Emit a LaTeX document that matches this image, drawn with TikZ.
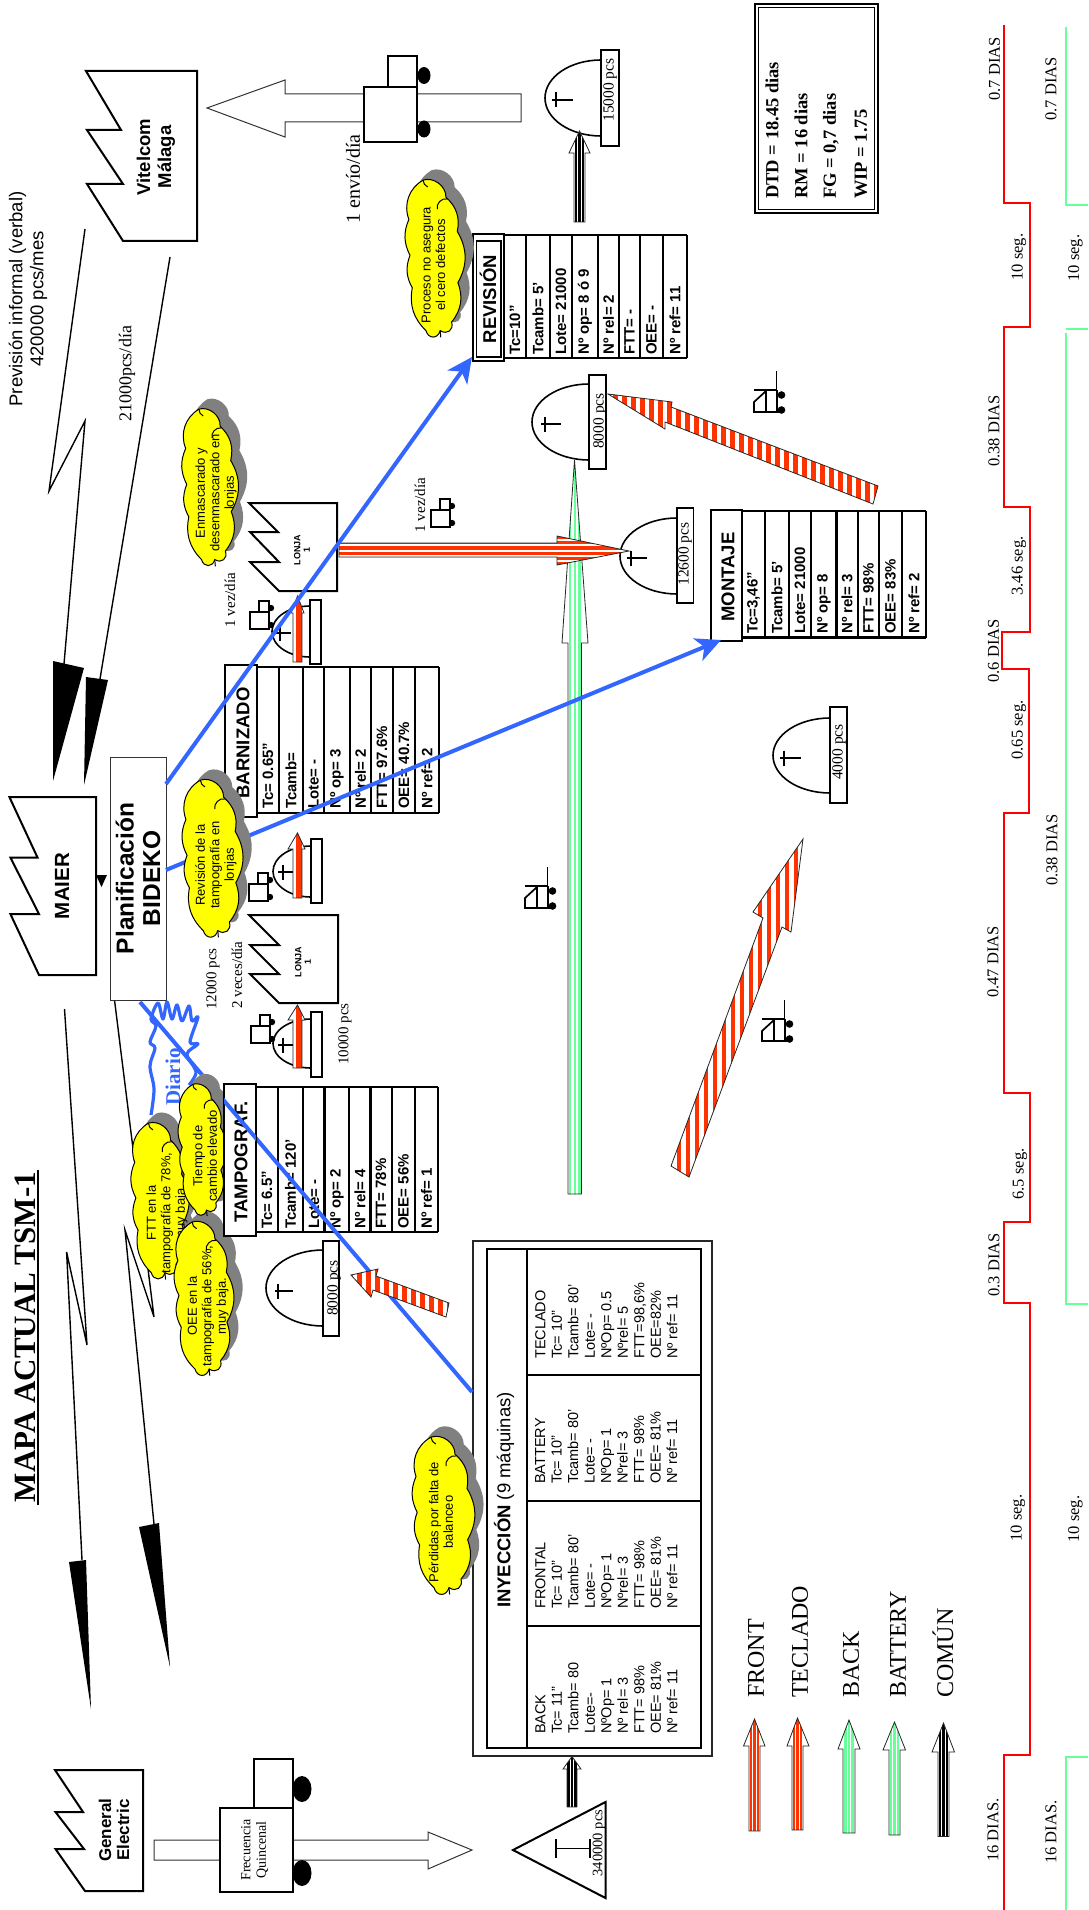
\documentclass[tikz,border=0pt]{standalone}
\usepackage{fontspec}
\setmainfont{Liberation Sans}
\newfontfamily\tnr{Liberation Serif}
\usetikzlibrary{arrows.meta}
\definecolor{vsred}{HTML}{FF3300}
\definecolor{vsgreen}{HTML}{66FF99}
\definecolor{vsblue}{HTML}{3366FF}
\definecolor{lred}{HTML}{FF0000}
\definecolor{cloudy}{HTML}{FFFF00}
\definecolor{cloudg}{HTML}{808080}
\newcommand\fz[2]{\fontsize{#1}{#2}\selectfont}
\tikzset{
 rot/.style={rotate=90,inner sep=0pt,align=center},
 sans/.style={rot,font=\fz{#1}{#1}},
 serif/.style={rot,font=\tnr\fz{#1}{#1}},
 fact/.style={line width=2pt,fill=white,line join=miter},
 factb/.style={rot,font=\bfseries\fz{#1}{#1}},
 hollow/.style={line width=1pt,fill=white,draw=black!80},
 tbl/.style={line width=2.4pt},
 stockl/.style={line width=1.6pt},
 cellb/.style={rot,anchor=west,font=\bfseries\fz{15}{15}},
 hdrb/.style={rot,font=\bfseries\fz{#1}{#1}},
 cloudt/.style={rot,font=\fz{13}{14.5}},
 inyt/.style={rot,anchor=north west,align=left,font=\fz{14.5}{16.5}},
 tline/.style={serif=16.5},
 bluear/.style={draw=vsblue,line width=4pt,-{Stealth[length=25pt,width=24pt,inset=7pt]}},
 bluel/.style={draw=vsblue,line width=4pt},
 bolt/.style={line width=1.4pt,line join=miter},
 striped/.style={line width=.8pt,draw=black!85,line join=miter},
 legt/.style={rot,anchor=west,font=\tnr\fz{24}{24}},
}
% vertical stripes clipped to a polygon: path, first x, step, last x, bar width, colour, ytop, ybot
\newcommand\stripev[8]{%
 \begin{scope}\clip #1 -- cycle;
  \fill[white] (0,#7) rectangle (1088,#8);
  \pgfmathsetmacro\nx{#2+#3}
  \foreach \xx in {#2,\nx,...,#4}{\fill[#6] (\xx-#5/2,#7) rectangle (\xx+#5/2,#8);}
 \end{scope}
 \draw[striped] #1 -- cycle;}
% horizontal stripes clipped to a polygon: path, first y, step, last y, bar height, colour, xleft, xright
\newcommand\stripeh[8]{%
 \begin{scope}\clip #1 -- cycle;
  \fill[white] (#7,0) rectangle (#8,1910);
  \pgfmathsetmacro\ny{#2+#3}
  \foreach \yy in {#2,\ny,...,#4}{\fill[#6] (#7,\yy-#5/2) rectangle (#8,\yy+#5/2);}
 \end{scope}
 \draw[striped] #1 -- cycle;}
% upward arrow: xl xr ybot ybase ytip hl hr colour
\newcommand\legarrow[8]{%
 \pgfmathsetmacro\xm{(#1+#2)/2}\pgfmathsetmacro\xa{\xm-3.4}\pgfmathsetmacro\xb{\xm+3.4}\pgfmathsetmacro\xc{\xm+6}
 \stripev{(#1,#3) -- (#1,#4) -- (#6,#4) -- (\xm,#5) -- (#7,#4) -- (#2,#4) -- (#2,#3)}{\xa}{3.4}{\xc}{2.3}{#8}{#5}{#3}}
% stock symbol: name, box l, box r, box top, box bottom, reach, ell top, ell bottom
\newcommand\stocksym[8]{%
 \pgfmathsetmacro\rr{(#8-#7)/2}
 \draw[stockl] (#2,#7) arc[start angle=-90,end angle=-270,x radius=#6,y radius=\rr];
 \draw[stockl,fill=white] (#2,#4) rectangle (#3,#5);}
\newcommand\crossm[4]{\draw[line width=1.4pt] (#1,#4) -- (#2,#4) (#3,#4-7.5) -- (#3,#4+7.5);}
\newcommand\smalltruck[2]{%
 \draw[line width=1.7pt] (#1,#2) rectangle (#1+19,#2+17) (#1+9,#2-11) rectangle (#1+19,#2);
 \fill (#1+21,#2-4) circle[radius=3.2] (#1+21,#2+13) circle[radius=3.2];}
\newcommand\forklift[2]{%
 \begin{scope}[shift={(#1,#2)}]
 \draw[line width=1.5pt] (22.5,0) -- (22.5,19);
 \draw[line width=2.6pt] (0,19) -- (23,19);
 \draw[line width=1.7pt] (27,41) -- (0,41) -- (0,31) -- (12,20) -- (12,41) (23,19) -- (23,41);
 \fill (27.5,24) circle[radius=3.8] (27.5,39) circle[radius=3.8];
 \end{scope}}
\newcommand\cloudpath{(.30,.03) to[bend left=55] (.70,.13) to[bend left=30] (.90,.33) to[bend left=30] (.91,.63) to[bend left=30] (.80,.86) to[bend left=70,looseness=1.5] (.60,.91) to[bend left=75,looseness=1.6] (.35,.91) to[bend left=28] (.11,.66) to[bend left=25] (.07,.47) to[bend left=25] (.05,.26) to[bend left=40] (.30,.03) -- cycle}
\newcommand\cloudsym[4]{%
 \pgfmathsetmacro\cw{#3-#1}\pgfmathsetmacro\ch{#4-#2}
 \begin{scope}[shift={(#1+8.7,#2-10)},x=\cw pt,y=-\ch pt]
  \fill[cloudg] \cloudpath;
 \end{scope}
 \begin{scope}[shift={(#1,#2)},x=\cw pt,y=-\ch pt]
  \draw[fill=cloudy,line width=1pt] \cloudpath;
  \draw[line width=1pt] (.55,.20) to[bend left=60] (.72,.14) (.30,.03) to[bend right=30] (.38,.07) (.60,.91) to[bend left=10] (.61,.95);
 \end{scope}}
\begin{document}
\begin{tikzpicture}[x=1pt,y=-1pt]
\useasboundingbox (0,0) rectangle (1088,1910);
\fill[white] (0,0) rectangle (1088,1910);

% ---- title and free texts
\node[rot,font=\tnr\bfseries\fz{31}{31}] (title) at (25,1337) {MAPA ACTUAL TSM-1};
\coordinate (tula) at (37.5,1170); \coordinate (tulb) at (37.5,1505);
\draw[line width=2pt] (tula) -- (tulb);
\node[sans=18.5,font=\fz{18.5}{21}] (prev) at (28,299) {Previsión informal (verbal)\\420000 pcs/mes};
\node[serif=18] (t21000) at (127,374) {21000pcs/día};
\node[serif=20] (tenvio) at (353,179) {1 envío/día};
\node[serif=15] (t1vezb) at (230,600) {1 vez/día};
\node[serif=15] (t1veza) at (420,505) {1 vez/día};
\node[serif=15] (t12000) at (213,979) {12000 pcs};
\node[serif=15] (t2veces) at (237,975) {2 veces/día};
\node[serif=15] (t10000) at (345,1034) {10000 pcs};

% ---- factories
\draw[fact] (86,71) -- (197,71) -- (197,241) -- (123,241) -- (87,184) -- (123,184) -- (87,130) -- (121,130) -- cycle;
\node[factb=18.5,font=\bfseries\fz{18.5}{21}] (vitelcom) at (156,157) {Vitelcom\\Málaga};
\draw[fact] (9.4,797) -- (96,797) -- (96,975) -- (39,975) -- (10.4,914) -- (39,914) -- (10.4,857.5) -- (37.5,857.5) -- cycle;
\node[factb=20.5] (maier) at (62,886) {MAIER};
\fill (96,875) -- (107,875) -- (101.5,887) -- cycle;
\draw[fact] (55,1770) -- (143,1770) -- (143,1891) -- (85,1891) -- (55.5,1849) -- (84,1849) -- (55.5,1812) -- (83,1812) -- cycle;
\node[factb=17,font=\bfseries\fz{17}{18}] (ge) at (114,1830) {General\\Electric};
\draw[fact] (249,503) -- (337,503) -- (337,591) -- (279,591) -- (250,562) -- (279,562) -- (250,532) -- (278,532) -- cycle;
\node[factb=9,font=\bfseries\fz{9}{9.5}] (lonjaa) at (302,550) {LONJA\\1};
\draw[fact] (249,915) -- (338,915) -- (338,1003) -- (279,1003) -- (250,974) -- (279,974) -- (250,945) -- (279,945) -- cycle;
\node[factb=9,font=\bfseries\fz{9}{9.5}] (lonjab) at (303,962) {LONJA\\1};

% ---- information flow bolts
\coordinate (ba0) at (85,229); \coordinate (ba1) at (49,491); \coordinate (ba2) at (85,421); \coordinate (ba3) at (64,664);
\draw[bolt] (ba0) -- (ba1) -- (ba2) -- (ba3);
\fill (53,661) -- (84,668) -- (53,781) -- cycle;
\coordinate (bb0) at (170,257); \coordinate (bb1) at (100,679);
\draw[bolt] (bb0) -- (bb1);
\fill (86,677) -- (108,680) -- (84,785) -- cycle;
\coordinate (bc0) at (64.5,1009); \coordinate (bc1) at (87,1345); \coordinate (bc2) at (66.6,1252); \coordinate (bc3) at (82,1560);
\draw[bolt] (bc0) -- (bc1) -- (bc2) -- (bc3);
\fill (69,1562) -- (86,1560) -- (91,1709) -- cycle;
\coordinate (bd0) at (114,996); \coordinate (bd1) at (154,1317); \coordinate (bd2) at (125,1230); \coordinate (bd3) at (154,1524);
\draw[bolt] (bd0) -- (bd1) -- (bd2) -- (bd3);
\fill (139,1527) -- (159,1523) -- (170,1667) -- cycle;

% ---- shipping arrows and trucks
\draw[hollow] (207,108) -- (285,80) -- (285,94) -- (521,94) -- (521,122) -- (285,122) -- (285,137) -- cycle;
\draw[line width=2pt,fill=white] (364,87) rectangle (417,142) (388,56) rectangle (417,87);
\fill (424,75.5) ellipse[x radius=6.5,y radius=8.5] (424,129) ellipse[x radius=6.5,y radius=8.5];
\draw[hollow] (154,1840) -- (428,1840) -- (428,1832) -- (472,1850) -- (428,1869) -- (428,1860) -- (154,1860) -- cycle;
\draw[line width=2pt,fill=white] (220,1808) rectangle (293,1892) (254,1759) rectangle (293,1808);
\fill (302,1789) ellipse[x radius=9.5,y radius=13] (302,1873) ellipse[x radius=9.5,y radius=13];
\node[serif=14,font=\tnr\fz{14}{15.5}] (frec) at (254.5,1850) {Frecuencia\\Quincenal};

% ---- planning box
\node[rot,draw=black!80,fill=white,line width=.9pt,minimum width=243pt,minimum height=56pt,font=\bfseries\fz{24.5}{26.5}] (plan) at (138,878.5) {Planificación\\BIDEKO};

% ---- process tables
\foreach \xx in {503.5,526,550,572,598,619,640,663,687} \draw[tbl] (\xx,235) -- (\xx,358);
\draw[tbl] (503.5,235) -- (687,235) (503.5,358) -- (687,358);
\draw[line width=2.4pt,fill=white] (473,234) rectangle (504,361);
\draw[line width=1.4pt] (476.5,241) rectangle (501,357);
\node[hdrb=18.5] (revh) at (488,299) {REVISIÓN};
\node[cellb] (r1) at (515,355) {Tc=10"};
\node[cellb] (r2) at (538,355) {Tcamb= 5'};
\node[cellb] (r3) at (561,355) {Lote= 21000};
\node[cellb] (r4) at (585,355) {Nº op= 8 ó 9};
\node[cellb] (r5) at (608.5,355) {Nº rel= 2};
\node[cellb] (r6) at (629.5,355) {FTT= -};
\node[cellb] (r7) at (651.5,355) {OEE= -};
\node[cellb] (r8) at (675,355) {Nº ref= 11};

\foreach \xx in {742,765,789,811,836.5,858,879,902,926} \draw[tbl] (\xx,511) -- (\xx,637.5);
\draw[tbl] (742,511) -- (926,511) (742,637.5) -- (926,637.5);
\draw[line width=2.4pt,fill=white] (711,510) rectangle (742,641);
\node[hdrb=18.5] (monh) at (728,577) {MONTAJE};
\node[cellb] (m1) at (753.5,634) {Tc=3,46"};
\node[cellb] (m2) at (777,634) {Tcamb= 5'};
\node[cellb] (m3) at (800,634) {Lote= 21000};
\node[cellb] (m4) at (824,634) {Nº op= 8};
\node[cellb] (m5) at (847,634) {Nº rel= 3};
\node[cellb] (m6) at (868.5,634) {FTT= 98\%};
\node[cellb] (m7) at (890.5,634) {OEE= 83\%};
\node[cellb] (m8) at (914,634) {Nº ref= 2};

\foreach \xx in {257,279,303,324,350,371,393,415,439} \draw[tbl] (\xx,667) -- (\xx,813);
\draw[tbl] (257,667) -- (439,667) (257,813) -- (439,813);
\draw[line width=2.4pt,fill=white] (225,665) rectangle (257,817);
\node[hdrb=18.5] (barh) at (243,743) {BARNIZADO};
\node[cellb] (b1) at (268,809) {Tc= 0.65"};
\node[cellb] (b2) at (291,809) {Tcamb=};
\node[cellb] (b3) at (313.5,809) {Lote= -};
\node[cellb] (b4) at (337,809) {Nº op= 3};
\node[cellb] (b5) at (360.5,809) {Nº rel= 2};
\node[cellb] (b6) at (382,809) {FTT= 97.6\%};
\node[cellb] (b7) at (404,809) {OEE= 40.7\%};
\node[cellb] (b8) at (427,809) {Nº ref= 2};

\foreach \xx in {256,278,303,324.5,349,370.6,392,415,438} \draw[tbl] (\xx,1087) -- (\xx,1232);
\draw[tbl] (256,1087) -- (438,1087) (256,1232) -- (438,1232);
\node[cellb] (t1) at (267,1229) {Tc= 6.5"};
\node[cellb] (t2) at (290.5,1229) {Tcamb= 120'};
\node[cellb] (t3) at (314,1229) {Lote= -};
\node[cellb] (t4) at (337,1229) {Nº op= 2};
\node[cellb] (t5) at (360,1229) {Nº rel= 4};
\node[cellb] (t6) at (381,1229) {FTT= 78\%};
\node[cellb] (t7) at (403.5,1229) {OEE= 56\%};
\node[cellb] (t8) at (426.5,1229) {Nº ref= 1};

% ---- injection block
\draw[line width=1.1pt,draw=black!85] (473,1241) rectangle (712,1756);
\draw[line width=2.6pt] (487,1249) rectangle (701,1748);
\draw[line width=2.6pt] (527,1249) -- (527,1748) (527,1375) -- (701,1375) (527,1501) -- (701,1501) (527,1626) -- (701,1626);
\node[rot,font=\fz{18.5}{18.5}] (iny) at (504,1500) {\textbf{INYECCIÓN} (9 máquinas)};
\node[inyt] (iback) at (535,1734) {BACK\\Tc= 11"\\Tcamb= 80\\Lote=-\\NºOp= 1\\Nº rel= 3\\FTT= 98\%\\OEE= 81\%\\Nº ref= 11};
\node[inyt] (ifront) at (535,1609) {FRONTAL\\Tc= 10"\\Tcamb= 80'\\Lote= -\\NºOp= 1\\Nºrel= 3\\FTT= 98\%\\OEE= 81\%\\Nº ref= 11};
\node[inyt] (ibatt) at (535,1484) {BATTERY\\Tc= 10"\\Tcamb= 80'\\Lote= -\\NºOp= 1\\Nºrel= 3\\FTT= 98\%\\OEE= 81\%\\Nº ref= 11};
\node[inyt] (itecl) at (535,1359) {TECLADO\\Tc= 10"\\Tcamb= 80'\\Lote= -\\NºOp= 0.5\\Nºrel= 5\\FTT=98,6\%\\OEE=82\%\\Nº ref= 11};

% ---- stocks
\stocksym{s1}{601}{619}{50}{146}{56}{60}{136}
\crossm{552}{573}{556}{100}
\node[serif=15.5] (l1) at (610,90) {15000 pcs};
\stocksym{s2}{589}{606}{375}{469}{57}{384}{460}
\crossm{541}{561}{545}{424}
\node[serif=15.5] (l2) at (600,421) {8000 pcs};
\stocksym{s3}{677}{693.5}{508}{603}{57}{518}{594}
\crossm{627}{647}{631}{558}
\node[serif=15.5] (l3) at (685,554) {12600 pcs};
\stocksym{s4}{830}{847}{707}{803}{57}{718}{793}
\crossm{780}{801}{784}{758}
\node[serif=15.5] (l4) at (839,752) {4000 pcs};
\stocksym{s5}{323}{339}{1241}{1336}{57}{1250}{1326}
\crossm{275}{293}{278}{1291}
\node[serif=15.5] (l5) at (334,1288) {8000 pcs};
\stocksym{s6}{310}{321}{600}{664}{38}{606}{657}
\crossm{275}{291}{280}{633}
\stocksym{s7}{311}{322}{839}{903}{38}{846}{897}
\crossm{278}{293}{283}{872}
\stocksym{s8}{311}{322}{1012}{1077}{38}{1019}{1068}
\crossm{278}{293}{283}{1045}
\stripev{(293,662) -- (293,613) -- (291,613) -- (297.5,596) -- (304,613) -- (302,613) -- (302,662)}{299}{10}{300}{6}{vsred}{590}{670}
\stripev{(293,898) -- (293,849) -- (288,849) -- (297.5,833) -- (305,849) -- (302,849) -- (302,898)}{299}{10}{300}{6}{vsred}{825}{905}
\stripev{(293,1068) -- (293,1020) -- (288,1020) -- (297.5,1005) -- (305,1020) -- (302,1020) -- (302,1068)}{299}{10}{300}{6}{vsred}{1000}{1075}

% triangle stock
\draw[line width=2pt,fill=white] (513,1850) -- (605.5,1802) -- (605.5,1898) -- cycle;
\draw[line width=1.5pt] (556,1839) -- (556,1858) (590,1839) -- (590,1858) (556,1848.5) -- (590,1848.5);
\node[serif=14.5] (l6) at (599,1843) {340000 pcs};

% ---- small trucks and forklifts
\smalltruck{431}{510}
\smalltruck{250}{612}
\smalltruck{249}{884}
\smalltruck{251}{1026}
\forklift{754}{371}
\forklift{762}{1000}
\forklift{525}{867}

% ---- long arrows
\stripev{(568,1194) -- (568,643) -- (562,643) -- (574.5,460) -- (588,643) -- (581.5,643) -- (581.5,1194)}{570}{4.8}{581}{2.6}{vsgreen}{455}{1200}
\stripeh{(339,543) -- (557,543) -- (557,536) -- (629,551) -- (557,565) -- (557,557) -- (339,557)}{537}{5.4}{566}{3.4}{vsred}{335}{635}
\stripev{(608,394) -- (672,402) -- (671,407) -- (878,486) -- (873,504) -- (665,422) -- (665,429)}{606}{9}{880}{5}{vsred}{390}{510}
\stripev{(803,839) -- (791,932) -- (782,927) -- (689,1177) -- (671,1166) -- (763,918) -- (753,912)}{670}{9}{806}{4.5}{vsred}{835}{1180}

% ---- blue information lines
\coordinate (pa) at (166,784); \coordinate (ra) at (472,357);
\draw[bluear] (pa) -- (ra);
\coordinate (pb) at (166,870); \coordinate (ma) at (721,640);
\draw[bluear] (pb) -- (ma);
\coordinate (pc) at (140,1002); \coordinate (ia) at (472,1392);
\draw[bluel] (pc) -- (ia);
\stripev{(351,1275) -- (378,1269) -- (376,1276) -- (449,1303) -- (446,1317) -- (373,1290) -- (371,1297)}{350}{9}{450}{5}{vsred}{1265}{1320}

% ---- Diario squiggle
\draw[vsblue,line width=3.2pt,line join=round] plot[smooth,tension=.55] coordinates {(151,1115) (154,1089) (150,1066) (155,1048) (150,1042) (156,1026) (151,1019) (158,1003) (163,1019) (167,1002) (172,1019) (177,1005) (182,1021) (189,1006) (192,1021) (198,1017) (190,1042) (198,1044) (187,1054) (196,1072) (189,1085)};
\node[rot,text=vsblue,font=\tnr\bfseries\fz{21}{21}] (diario) at (173,1077) {Diario};

% ---- clouds
\cloudsym{406}{175}{463}{346}
\node[cloudt] (c1) at (433.5,265) {Proceso no asegura\\el cero defectos};
\cloudsym{183}{404}{236}{575}
\node[cloudt] (c2) at (216,493) {Enmascarado y\\desenmascarado en\\lonjas};
\cloudsym{183}{775}{241}{946}
\node[cloudt] (c3) at (216,865) {Revisión de la\\tampografía en\\lonjas};
\cloudsym{132}{1118}{187}{1288}
\node[cloudt] (c4) at (167,1213) {FTT en la\\tampografía de 78\%,\\muy baja.};
\cloudsym{175}{1217}{232}{1384}
\node[cloudt] (c6) at (208,1306) {OEE en la\\tampografía de 56\%,\\muy baja.};
\cloudsym{179}{1080}{225}{1223}
\node[cloudt] (c5) at (205,1156) {Tiempo de\\cambio elevado};
\cloudsym{413}{1432}{473}{1603}
\node[cloudt] (c7) at (441,1522) {Pérdidas por falta de\\balanceo};

% ---- TAMPOGRAF header sits above the cloud shadow, the blue line above it
\draw[line width=2.4pt,fill=white] (224,1084) rectangle (256,1236);
\node[hdrb=18.5] (tamh) at (241,1162) {TAMPOGRAF.};
\begin{scope}
 \clip (224,1084) rectangle (256,1236);
 \draw[bluel] (pc) -- (ia);
\end{scope}

% ---- legend
\legarrow{749}{760}{1831}{1746}{1719}{743.5}{765}{vsred}
\legarrow{792}{803}{1830}{1746}{1718}{787}{809}{vsred}
\legarrow{843}{855}{1833}{1749}{1720}{838}{860}{vsgreen}
\legarrow{889}{900}{1835}{1750}{1722}{883}{905.5}{vsgreen}
\legarrow{938}{949}{1836.5}{1752}{1723}{932}{954.5}{black}
\node[legt] (lf) at (756,1698) {FRONT};
\node[legt] (lt) at (800,1698) {TECLADO};
\node[legt] (lb) at (851,1698) {BACK};
\node[legt] (lba) at (898,1698) {BATTERY};
\node[legt] (lc) at (943,1698) {COMÚN};
\legarrow{567}{577}{1807}{1769}{1756.5}{563}{581}{black}
\legarrow{574}{585}{222}{153}{131}{569}{590}{black}

% ---- summary box
\draw[line width=2pt] (755,4) rectangle (878,213);
\draw[line width=1pt] (758.5,7.5) rectangle (874.5,209.5);
\node[rot,anchor=west,font=\tnr\bfseries\fz{18.5}{18.5}] (d1) at (772,199) {DTD = 18.45 dias};
\node[rot,anchor=west,font=\tnr\bfseries\fz{18.5}{18.5}] (d2) at (801,199) {RM = 16 dias};
\node[rot,anchor=west,font=\tnr\bfseries\fz{18.5}{18.5}] (d3) at (831,199) {FG = 0,7 dias};
\node[rot,anchor=west,font=\tnr\bfseries\fz{18.5}{18.5}] (d4) at (861,199) {WIP = 1.75};

% ---- timelines
\draw[lred,line width=2pt] (1004,25) -- (1004,203) -- (1030,203) -- (1030,326.5) -- (1004,326.5) -- (1004,507) -- (1030,507) -- (1030,632) -- (1002,632) -- (1002,669) -- (1029,669) -- (1029,813) -- (1004,813) -- (1004,1093) -- (1030,1093) -- (1030,1221.5) -- (1004,1221.5) -- (1004,1303) -- (1030,1303) -- (1030,1755) -- (1004,1755) -- (1004,1910);
\draw[vsgreen,line width=2pt] (1066,27) -- (1066,205) -- (1088,205);
\draw[vsgreen,line width=2pt] (1088,329) -- (1066,329);
\draw[vsgreen,line width=2pt] (1066,333) -- (1066,1303.5) -- (1088,1303.5);
\draw[vsgreen,line width=2pt] (1088,1756.5) -- (1066,1756.5) -- (1066,1910);
\node[tline] (a1) at (994.5,69) {0.7 DIAS};
\node[tline] (a2) at (1019,257) {10 seg.};
\node[tline] (a3) at (994,431) {0.38 DIAS};
\node[tline] (a4) at (1019,566) {3.46 seg.};
\node[tline] (a5) at (993.5,651) {0.6 DIAS};
\node[tline] (a6) at (1019,730) {0.65 seg.};
\node[tline] (a7) at (993,962) {0.47 DIAS};
\node[tline] (a8) at (1020,1174) {6.5 seg.};
\node[tline] (a9) at (994,1265) {0.3 DIAS};
\node[tline] (a10) at (1018,1518) {10 seg.};
\node[tline] (a11) at (993,1830) {16 DIAS.};
\node[tline] (g1) at (1051,89) {0.7 DIAS};
\node[tline] (g2) at (1075.5,258) {10 seg.};
\node[tline] (g3) at (1052,850) {0.38 DIAS};
\node[tline] (g4) at (1075.5,1519) {10 seg.};
\node[tline] (g5) at (1051,1832) {16 DIAS.};
\end{tikzpicture}
\end{document}
